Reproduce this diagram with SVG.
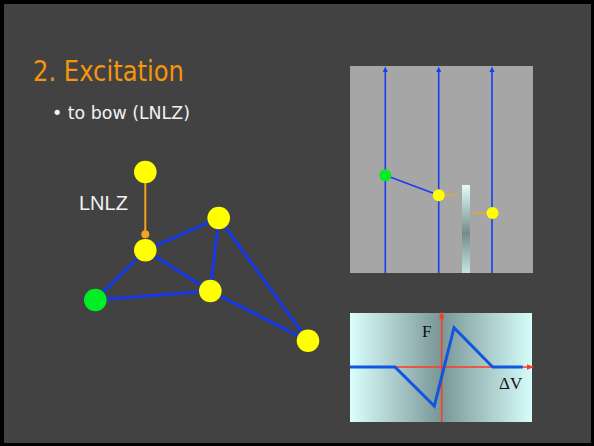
<svg xmlns="http://www.w3.org/2000/svg" width="594" height="446" viewBox="0 0 594 446">
<style>
.edge{stroke:#1438e8;stroke-width:3;fill:none}
.yel{fill:#ffff00}
.grn{fill:#00ee22}
.org{stroke:#f5a21e;stroke-width:2;fill:none}
.vline{stroke:#1a3cf0;stroke-width:1.6}
</style>
<defs>
<linearGradient id="vg" x1="0" y1="0" x2="0" y2="1">
<stop offset="0" stop-color="#e2fffc"/>
<stop offset="0.55" stop-color="#768c8b"/>
<stop offset="1" stop-color="#c2e6e3"/>
</linearGradient>
<linearGradient id="hg" x1="0" y1="0" x2="1" y2="0">
<stop offset="0" stop-color="#dafffd"/>
<stop offset="0.5" stop-color="#7a9696"/>
<stop offset="1" stop-color="#d6fdfb"/>
</linearGradient>
</defs>
<rect x="0" y="0" width="594" height="446" fill="#000"/>
<rect x="4" y="4" width="587" height="439" fill="#424242"/>
<text x="33" y="81" font-family="'DejaVu Sans', sans-serif" font-size="28" fill="#f5960c" textLength="151" lengthAdjust="spacingAndGlyphs">2. Excitation</text>
<text x="52" y="119" font-family="'DejaVu Sans', sans-serif" font-size="18" fill="#f2f2f2" textLength="138" lengthAdjust="spacingAndGlyphs">• to bow (LNLZ)</text>

<g id="upper-panel">
<rect x="350" y="66" width="183" height="207" fill="#a6a6a6"/>
<line class="vline" x1="385.3" y1="71" x2="385.3" y2="273"/>
<line class="vline" x1="438.7" y1="71" x2="438.7" y2="273"/>
<line class="vline" x1="492" y1="71" x2="492" y2="273"/>
<polygon points="385.3,66.5 382.8,72 387.8,72" fill="#1a3cf0"/>
<polygon points="438.7,66.5 436.2,72 441.2,72" fill="#1a3cf0"/>
<polygon points="492,66.5 489.5,72 494.5,72" fill="#1a3cf0"/>
<rect x="462" y="185" width="8" height="88" fill="url(#vg)"/>
<line x1="385.3" y1="175.3" x2="438.7" y2="195.3" stroke="#1a3cf0" stroke-width="1.5"/>
<line x1="438.7" y1="195.3" x2="456.7" y2="195.3" stroke="#e3a63a" stroke-width="1.5"/>
<line x1="472.7" y1="213" x2="492" y2="213" stroke="#e3a63a" stroke-width="1.5"/>
<circle cx="385.3" cy="175.3" r="6" class="grn"/>
<circle cx="438.7" cy="195.3" r="6" class="yel"/>
<circle cx="492.5" cy="213" r="6" class="yel"/>
</g>

<g id="lower-panel">
<rect x="350" y="313" width="182" height="109" fill="url(#hg)"/>
<line x1="441.7" y1="318" x2="441.7" y2="422" stroke="#ff3b1f" stroke-width="1.5"/>
<polygon points="441.7,311.5 439,318.5 444.4,318.5" fill="#ff3b1f"/>
<line x1="350" y1="367" x2="528" y2="367" stroke="#ff3b1f" stroke-width="1.5"/>
<polygon points="534,367 527,364.3 527,369.7" fill="#ff3b1f"/>
<polyline points="350,367 395,367 434.3,406 454,327.7 492.7,367 522.7,367" stroke="#1156e0" stroke-width="3" fill="none"/>
<text x="422" y="337" font-family="'Liberation Serif', serif" font-size="17" fill="#111">F</text>
<text x="499" y="389" font-family="'Liberation Serif', serif" font-size="17" fill="#111">ΔV</text>
</g>

<g id="connectors">
<line class="edge" x1="145.3" y1="250.3" x2="218.7" y2="218"/>
<line class="edge" x1="145.3" y1="250.3" x2="95.3" y2="300"/>
<line class="edge" x1="145.3" y1="250.3" x2="210.3" y2="291"/>
<line class="edge" x1="95.3" y1="300" x2="210.3" y2="291"/>
<line class="edge" x1="218.7" y1="218" x2="210.3" y2="291"/>
<line class="edge" x1="218.7" y1="218" x2="308" y2="340.7"/>
<line class="edge" x1="210.3" y1="291" x2="308" y2="340.7"/>
<line class="org" x1="145.3" y1="172" x2="145.3" y2="234.3"/>
</g>
<g id="lnlz-dot"><circle cx="145.3" cy="234.3" r="4" fill="#f5a21e"/></g>
<g id="n-top"><circle cx="145.3" cy="172" r="11.3" class="yel"/></g>
<g id="n-mid"><circle cx="145.3" cy="250.3" r="11.3" class="yel"/></g>
<g id="n-topright"><circle cx="218.7" cy="218" r="11.3" class="yel"/></g>
<g id="n-center"><circle cx="210.3" cy="291" r="11.3" class="yel"/></g>
<g id="n-green"><circle cx="95.3" cy="300" r="11.3" class="grn"/></g>
<g id="n-bottomright"><circle cx="308" cy="340.7" r="11.3" class="yel"/></g>
<g id="label-lnlz"><text x="79" y="210" font-family="'Liberation Sans', Arial, sans-serif" font-size="20" fill="#f2f2f2">LNLZ</text></g>
</svg>
